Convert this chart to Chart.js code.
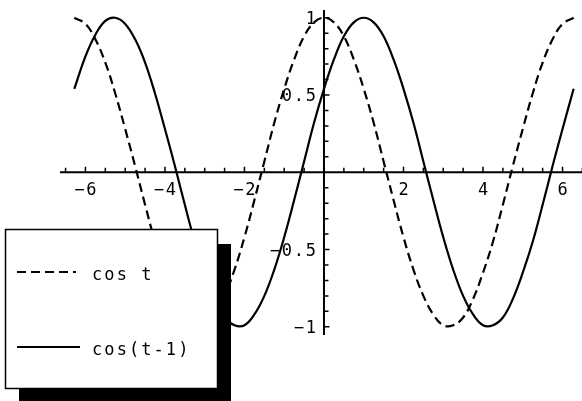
<!DOCTYPE html>
<html>
<head>
<meta charset="utf-8">
<script src="https://cdn.jsdelivr.net/npm/chart.js@4/dist/chart.umd.min.js"></script>
<style>
  body { margin: 0; background: #fff; }
  canvas { display: block; }
</style>
</head>
<body>
<canvas id="myChart" width="582" height="401"></canvas>
<script>
// values
var tValues = [-6.28, -6, -5.75, -5.5, -5.25, -5, -4.75, -4.5, -4.25, -4, -3.75, -3.5, -3.25, -3,
  -2.75, -2.5, -2.25, -2, -1.75, -1.5, -1.25, -1, -0.75, -0.5, -0.25, 0, 0.25, 0.5, 0.75, 1,
  1.25, 1.5, 1.75, 2, 2.25, 2.5, 2.75, 3, 3.25, 3.5, 3.75, 4, 4.25, 4.5, 4.75, 5, 5.25, 5.5,
  5.75, 6, 6.28];
var cosT = [1.00, 0.96, 0.86, 0.71, 0.51, 0.28, 0.04, -0.21, -0.45, -0.65, -0.82, -0.94, -0.99, -0.99,
  -0.92, -0.80, -0.63, -0.42, -0.18, 0.07, 0.32, 0.54, 0.73, 0.88, 0.97, 1.00, 0.97, 0.88, 0.73, 0.54,
  0.32, 0.07, -0.18, -0.42, -0.63, -0.80, -0.92, -0.99, -0.99, -0.94, -0.82, -0.65, -0.45, -0.21,
  0.04, 0.28, 0.51, 0.71, 0.86, 0.96, 1.00];
var cosTMinus1 = [0.54, 0.75, 0.89, 0.98, 1.00, 0.96, 0.86, 0.71, 0.51, 0.28, 0.04, -0.21, -0.45, -0.65,
  -0.82, -0.94, -0.99, -0.99, -0.92, -0.80, -0.63, -0.42, -0.18, 0.07, 0.32, 0.54, 0.73, 0.88, 0.97, 1.00,
  0.97, 0.88, 0.73, 0.54, 0.32, 0.07, -0.18, -0.42, -0.63, -0.80, -0.92, -0.99, -0.99, -0.94,
  -0.82, -0.65, -0.45, -0.21, 0.04, 0.28, 0.54];
var seriesLabels = ['cos t', 'cos(t-1)'];
var xTickLabels = [-6, -4, -2, 2, 4, 6];
var yTickLabels = [-1, -0.5, 0.5, 1];
var xMinorStep = 0.5;
var yMinorStep = 0.1;

var FONT = '17px "DejaVu Sans Mono", "Liberation Mono", monospace';

function pts(ys) {
  return tValues.map(function(t, i) { return {x: t, y: ys[i]}; });
}

function fmt(v) {
  var s = String(Math.abs(v));
  return v < 0 ? '\u2212' + s : s;
}

// monospace text with wide cells, like the original
function drawSpaced(ctx, text, x, y, adv, align) {
  var w = text.length * adv;
  var left = x;
  if (align === 'center') left = x - w / 2;
  if (align === 'right') left = x - w;
  ctx.textAlign = 'center';
  for (var i = 0; i < text.length; i++) {
    ctx.fillText(text[i], left + adv * i + adv / 2, y);
  }
}

var axesPlugin = {
  id: 'axes',
  beforeDatasetsDraw: function(chart) {
    var ctx = chart.ctx, xs = chart.scales.x, ys = chart.scales.y, a = chart.chartArea;
    var x0 = xs.getPixelForValue(0), y0 = ys.getPixelForValue(0);
    ctx.save();
    ctx.strokeStyle = '#000';
    ctx.lineWidth = 2;
    ctx.beginPath();
    ctx.moveTo(a.left, y0); ctx.lineTo(a.right, y0);
    ctx.moveTo(x0, a.top); ctx.lineTo(x0, a.bottom);
    ctx.stroke();

    ctx.lineWidth = 1.5;
    ctx.beginPath();
    var v, p, major;
    for (v = -13; v <= 13; v++) {
      var xv = v * xMinorStep;
      if (xv === 0) continue;
      p = xs.getPixelForValue(xv);
      if (p < a.left || p > a.right + 1) continue;
      major = xTickLabels.indexOf(xv) >= 0;
      ctx.moveTo(p, y0); ctx.lineTo(p, y0 - (major ? 5.5 : 4.5));
    }
    for (v = -10; v <= 10; v++) {
      if (v === 0) continue;
      var yv = Math.round(v * yMinorStep * 10) / 10;
      p = ys.getPixelForValue(yv);
      major = yTickLabels.indexOf(yv) >= 0;
      ctx.moveTo(x0, p); ctx.lineTo(x0 + (major ? 5.5 : 4.5), p);
    }
    ctx.stroke();

    ctx.fillStyle = '#000';
    ctx.font = FONT;
    ctx.textBaseline = 'alphabetic';
    xTickLabels.forEach(function(t) {
      drawSpaced(ctx, fmt(t), xs.getPixelForValue(t), y0 + 23, 12, 'center');
    });
    yTickLabels.forEach(function(t) {
      drawSpaced(ctx, fmt(t), x0 - 7, ys.getPixelForValue(t) + 6, 12, 'right');
    });
    ctx.restore();
  },
  afterDatasetsDraw: function(chart) {
    var ctx = chart.ctx;
    ctx.save();
    // shadow + box
    ctx.fillStyle = '#000';
    ctx.fillRect(19, 244, 212, 157);
    ctx.fillStyle = '#fff';
    ctx.fillRect(5, 229, 213, 160);
    ctx.strokeStyle = '#000';
    ctx.lineWidth = 1.5;
    ctx.strokeRect(5.5, 229.5, 212, 159);

    var rows = [272, 347];
    chart.data.datasets.forEach(function(ds, i) {
      var y = rows[i];
      ctx.strokeStyle = '#000';
      ctx.lineWidth = 2.2;
      ctx.setLineDash(ds.borderDash || []);
      ctx.beginPath();
      ctx.moveTo(17, y); ctx.lineTo(i === 0 ? 76 : 80, y);
      ctx.stroke();
      ctx.setLineDash([]);
      ctx.fillStyle = '#000';
      ctx.font = FONT;
      ctx.textBaseline = 'alphabetic';
      drawSpaced(ctx, ds.label, 91, y + 8, 12.3, 'left');
    });
    ctx.restore();
  }
};

new Chart(document.getElementById('myChart'), {
  type: 'line',
  data: {
    datasets: [
      {
        label: seriesLabels[0],
        data: pts(cosT),
        borderColor: '#000',
        borderWidth: 2.2,
        borderDash: [9, 5],
        pointRadius: 0,
        tension: 0.4,
        fill: false
      },
      {
        label: seriesLabels[1],
        data: pts(cosTMinus1),
        borderColor: '#000',
        borderWidth: 2.2,
        pointRadius: 0,
        tension: 0.4,
        fill: false
      }
    ]
  },
  options: {
    responsive: false,
    animation: false,
    devicePixelRatio: 1,
    clip: false,
    layout: { padding: { left: 60, right: 0, top: 10, bottom: 66 } },
    scales: {
      x: { type: 'linear', min: -6.64, max: 6.49, display: false },
      y: { type: 'linear', min: -1.053, max: 1.05, display: false }
    },
    plugins: {
      legend: { display: false },
      tooltip: { enabled: false }
    }
  },
  plugins: [axesPlugin]
});
</script>
</body>
</html>
